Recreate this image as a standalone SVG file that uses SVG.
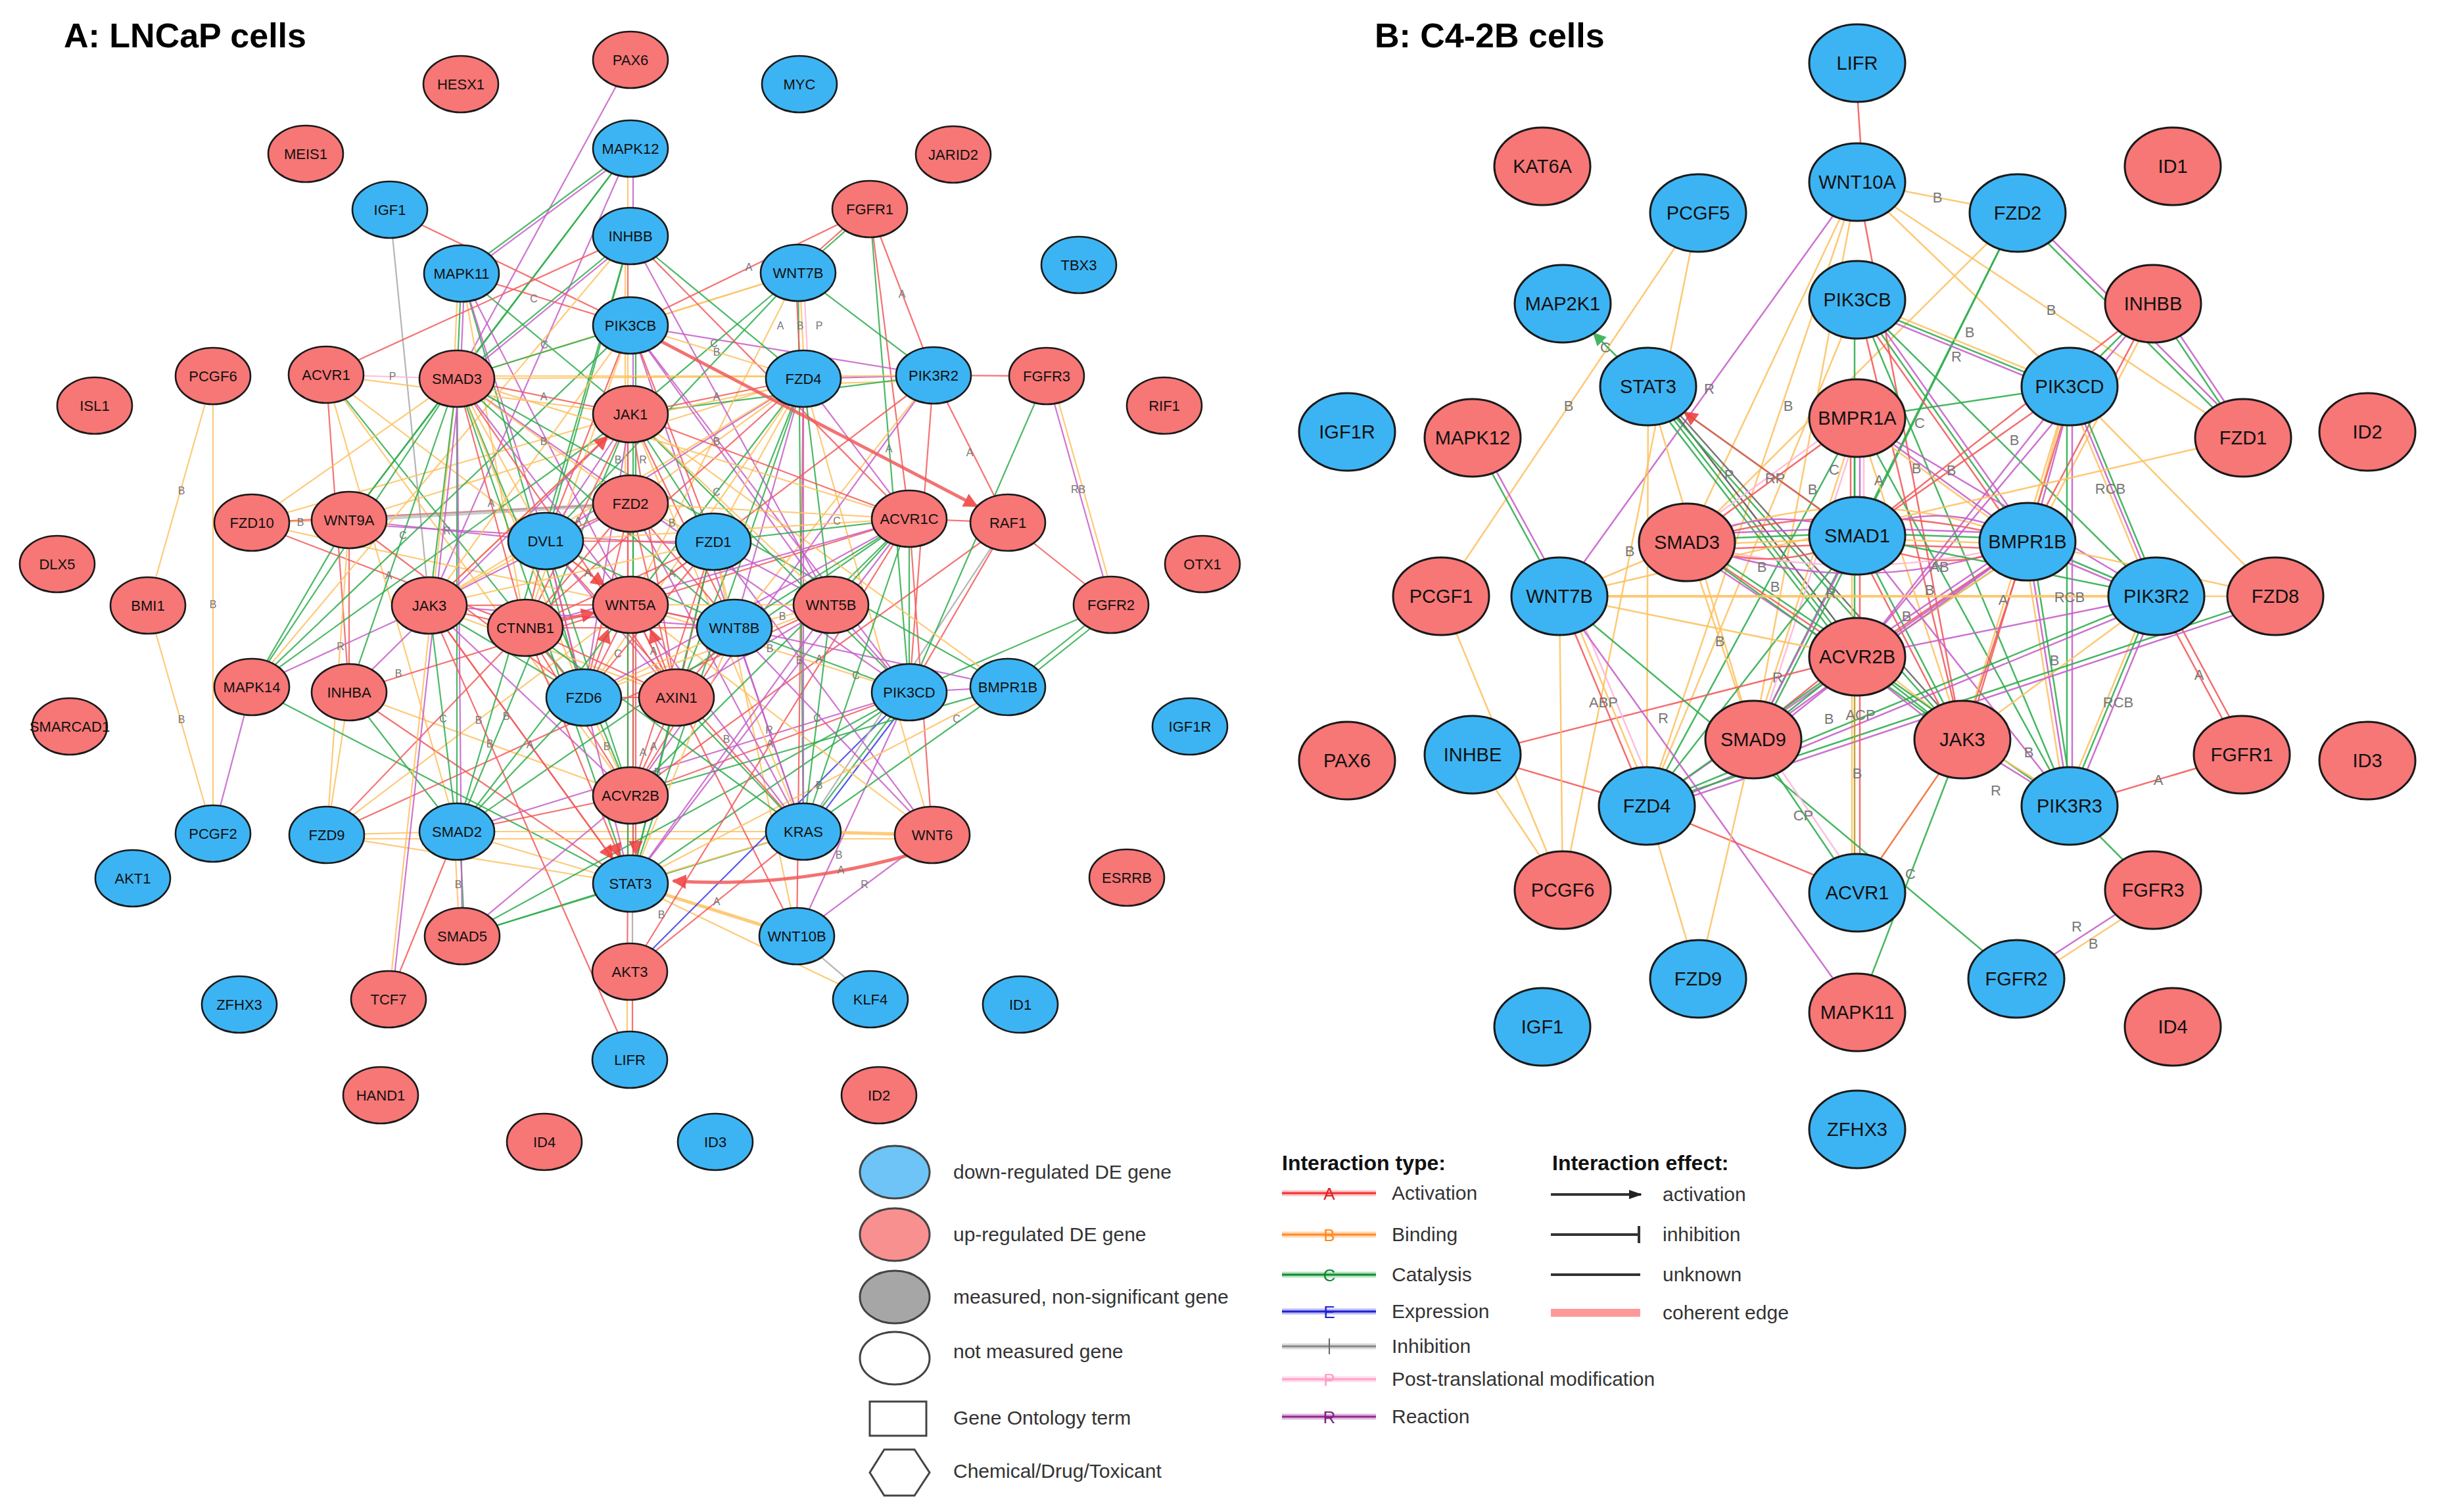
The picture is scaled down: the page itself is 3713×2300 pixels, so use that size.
<svg xmlns="http://www.w3.org/2000/svg" width="3713" height="2300" viewBox="0 0 3713 2300">
<style>
text{font-family:"Liberation Sans",Arial,sans-serif}
.title{font-size:52px;font-weight:bold;fill:#000}
.node ellipse{stroke:#1a1a1a;stroke-width:2.6}
.up ellipse{fill:#F77676}
.dn ellipse{fill:#3CB4F3}
.la{font-size:22px;fill:#111;text-anchor:middle}
.lb{font-size:29px;fill:#111;text-anchor:middle}
#nodes-B .node ellipse{stroke-width:3}
#connectors path,#legend path{fill:none}
.a{stroke:#F25A5A}.b{stroke:#FDC262}.c{stroke:#2EAD4C}.i{stroke:#A8A8A8}.p{stroke:#FFB5D8}.r{stroke:#C65EC8}.e{stroke:#3B3BE4}.o{stroke:#F06A30}.ol{stroke:#B89A20}
#edges-A path{stroke-width:2.2;opacity:.85}
#edges-B path{stroke-width:2.5;opacity:.88}
.t{stroke-width:5px !important}
.el{font-size:16px;fill:#777;text-anchor:middle}
.elb{font-size:22px;fill:#777;text-anchor:middle}
.lg{font-size:30px;fill:#333}
.lgh{font-size:32px;font-weight:bold;fill:#111}
.lgl{font-size:26px;text-anchor:middle}
.lgs{stroke:#444;stroke-width:3}
</style>
<defs>
<marker id="arA" viewBox="0 0 10 10" refX="9" refY="5" markerUnits="userSpaceOnUse" markerWidth="22" markerHeight="22" orient="auto"><path d="M0 0L10 5 0 10z" fill="#F03C3C"/></marker>
<marker id="arC" viewBox="0 0 10 10" refX="9" refY="5" markerUnits="userSpaceOnUse" markerWidth="20" markerHeight="20" orient="auto"><path d="M0 0L10 5 0 10z" fill="#2EAD4C"/></marker>
<marker id="arK" viewBox="0 0 10 10" refX="9" refY="5" markerUnits="userSpaceOnUse" markerWidth="20" markerHeight="20" orient="auto"><path d="M0 1.5L10 5 0 8.5z" fill="#222"/></marker>
</defs>
<rect width="3713" height="2300" fill="#fff"/>
<text class="title" x="97" y="72">A: LNCaP cells</text>
<text class="title" x="2091" y="72">B: C4-2B cells</text>

<g id="connectors">
<g id="edges-A">
<path class="r" d="M959 91L695 576"/>
<path class="c" d="M959 226L702 416"/><path class="r" d="M959 232L702 422"/>
<path class="c" d="M959 226L695 576"/>
<path class="b" d="M955 226L955 359"/><path class="r" d="M963 226L963 359"/>
<path class="r" d="M959 226L653 921"/>
<path class="c" d="M959 226L531 791"/>
<path class="a" d="M593 319L959 495"/>
<path class="i" d="M593 319L653 921"/>
<path class="a" d="M702 416L959 495"/>
<path class="b" d="M697 416L690 576"/><path class="c" d="M702 416L695 576"/><path class="r" d="M707 416L700 576"/>
<path class="c" d="M702 416L959 630"/>
<path class="c" d="M702 416L888 1061"/>
<path class="b" d="M702 416L799 955"/>
<path class="r" d="M702 416L959 920"/>
<path class="r" d="M702 416L830 823"/>
<path class="a" d="M496 570L959 359"/>
<path class="p" d="M496 570L695 576"/>
<path class="b" d="M496 570L959 630"/>
<path class="b" d="M496 570L959 920"/>
<path class="a" d="M496 570L531 1053"/>
<path class="c" d="M496 570L888 1061"/>
<path class="b" d="M496 570L695 1265"/>
<path class="b" d="M496 570L959 1210"/>
<path class="b" d="M324 572L324 1268"/>
<path class="b" d="M324 572L225 921"/>
<path class="b" d="M225 921L324 1268"/>
<path class="r" d="M383 1045L324 1268"/>
<path class="b" d="M531 1053L497 1270"/>
<path class="b" d="M383 795L531 791"/>
<path class="b" d="M383 795L959 630"/>
<path class="a" d="M383 795L959 766"/>
<path class="b" d="M383 795L959 920"/>
<path class="a" d="M383 795L799 955"/>
<path class="b" d="M383 795L695 576"/>
<path class="i" style="stroke-width:6;opacity:.6" d="M531 791L959 766"/>
<path class="r" d="M531 791L830 823"/>
<path class="r" d="M531 797L1085 830"/>
<path class="b" d="M531 791L1222 576"/>
<path class="a" d="M531 791L888 1061"/>
<path class="c" d="M531 791L695 576"/>
<path class="b" d="M531 791L497 1270"/>
<path class="c" d="M531 791L383 1045"/>
<path class="a" d="M531 791L531 1053"/>
<path class="c" d="M383 1045L695 576"/>
<path class="c" d="M383 1045L959 630"/>
<path class="c" d="M383 1045L959 495"/>
<path class="c" d="M383 1045L959 1344"/>
<path class="r" d="M383 1045L653 921"/>
<path class="b" d="M383 1045L959 359"/>
<path class="c" d="M531 1053L695 576"/>
<path class="b" d="M531 1053L959 1210"/>
<path class="c" d="M531 1053L695 1265"/>
<path class="r" d="M531 1053L959 630"/>
<path class="a" d="M531 1053L1383 789"/>
<path class="a" d="M531 1053L959 1344"/>
<path class="b" d="M497 1270L959 920"/>
<path class="b" d="M497 1270L695 1265"/>
<path class="b" d="M497 1270L959 1344"/>
<path class="b" d="M497 1276L1418 1276"/>
<path class="a" d="M497 1270L1264 920"/>
<path class="a" d="M497 1270L799 955"/>
<path class="a" d="M695 1265L959 1210"/>
<path class="c" d="M695 1265L695 576"/>
<path class="b" d="M695 1265L959 1344"/>
<path class="c" d="M699 1265L707 1424"/><path class="b" d="M691 1265L699 1424"/>
<path class="c" d="M695 1265L959 630"/>
<path class="c" d="M695 1265L1383 789"/>
<path class="r" d="M695 1265L1383 1053"/>
<path class="b" d="M695 1265L1222 1265"/>
<path class="a" d="M695 1265L591 1520"/>
<path class="b" d="M695 576L591 1520"/><path class="r" d="M700 576L596 1520"/>
<path class="r" d="M695 576L703 1424"/>
<path class="c" d="M703 1424L959 1344"/>
<path class="c" d="M703 1424L1222 1265"/>
<path class="r" d="M703 1424L959 1210"/>
<path class="c" d="M703 1424L1383 1053"/>
<path class="a" d="M955 1344L954 1478"/><path class="i" d="M962 1344L962 1478"/>
<path class="b t" d="M959 1344L1212 1424"/>
<path class="b" d="M959 1344L1324 1520"/>
<path class="a" d="M955 1344L955 630"/><path class="c" d="M963 1344L963 630"/>
<path class="a" d="M959 1344L653 921"/>
<path class="b" d="M959 1344L1222 1265"/>
<path class="c" d="M959 1344L1383 1053"/>
<path class="r" d="M1212 1424L1418 1270"/>
<path class="i" d="M1212 1424L1324 1520"/>
<path class="a" d="M1212 1424L1222 576"/>
<path class="a" d="M1212 1424L959 920"/>
<path class="b" d="M1212 1424L1085 824"/>
<path class="r" d="M1212 1424L1383 1053"/>
<path class="b" d="M954 1478L954 1612"/><path class="a" d="M962 1478L962 1612"/>
<path class="e" d="M958 1478L1383 1053"/>
<path class="a" d="M958 1478L1383 789"/>
<path class="a" d="M958 1478L1222 1265"/>
<path class="a" d="M958 1612L653 921"/>
<path class="b t" d="M1222 1265L1418 1270"/>
<path class="c" d="M1222 1265L1383 1053"/><path class="e" d="M1227 1269L1388 1057"/>
<path class="c" d="M1222 1265L1533 1045"/>
<path class="i" d="M1222 1265L1533 795"/>
<path class="r" d="M1222 1265L959 495"/>
<path class="r" d="M1222 1265L959 766"/>
<path class="c" d="M1222 1265L1214 415"/>
<path class="b" d="M1222 1265L959 630"/>
<path class="a" d="M1222 1265L830 823"/>
<path class="b" d="M1418 1270L1222 576"/>
<path class="b" d="M1418 1270L959 920"/>
<path class="r" d="M1418 1270L1085 824"/>
<path class="r" d="M1418 1270L1117 955"/>
<path class="a" d="M1418 1270L1383 789"/>
<path class="c" d="M955 1210L955 1344"/><path class="a" d="M963 1210L963 1344"/>
<path class="c" d="M959 1210L1533 1045"/>
<path class="a" d="M959 1210L1383 1053"/>
<path class="c" d="M959 1210L1383 789"/>
<path class="a" d="M959 1210L1533 795"/>
<path class="c" d="M959 1210L695 576"/>
<path class="r" d="M959 1210L1420 571"/>
<path class="r" d="M1383 1053L1533 1045"/>
<path class="c" d="M1383 1053L1383 789"/>
<path class="a" d="M1383 1053L1420 571"/>
<path class="c" d="M1383 1053L1323 318"/>
<path class="c" d="M1383 1053L1592 572"/>
<path class="c" d="M1383 1053L1690 920"/>
<path class="a" d="M1383 1053L1533 795"/>
<path class="c" d="M1383 1053L959 630"/>
<path class="b" d="M1383 1053L959 920"/>
<path class="r" d="M1383 1053L695 576"/>
<path class="r" d="M1383 1053L959 495"/>
<path class="c" d="M1533 1045L1690 920"/><path class="c" d="M1538 1052L1695 927"/>
<path class="c" d="M1533 1045L695 576"/>
<path class="r" d="M1533 1045L959 920"/>
<path class="b" d="M1533 1045L959 630"/>
<path class="b" d="M1533 1045L959 1344"/>
<path class="a" d="M1533 795L1690 920"/>
<path class="a" d="M1533 795L1420 571"/>
<path class="a" d="M1533 795L1383 789"/>
<path class="r" d="M1690 920L1592 572"/><path class="b" d="M1697 920L1599 572"/>
<path class="a" d="M1592 572L1420 571"/>
<path class="a" d="M1323 318L1420 571"/>
<path class="c" d="M1323 318L1214 415"/><path class="a" d="M1323 312L1214 409"/>
<path class="a" d="M1323 318L959 495"/>
<path class="a" d="M1323 318L1383 789"/>
<path class="c" d="M1420 571L1214 415"/>
<path class="r" d="M1420 571L1222 576"/><path class="b" d="M1420 579L1222 584"/>
<path class="r" d="M1420 571L959 495"/>
<path class="c" d="M1420 571L959 630"/>
<path class="a" d="M1420 571L959 920"/>
<path class="b" d="M1420 571L695 576"/>
<path class="b" d="M1420 571L1117 955"/>
<path class="a" d="M1210 415L1218 576"/><path class="b" d="M1216 415L1224 576"/><path class="p" d="M1222 415L1230 576"/>
<path class="b" d="M1214 415L959 495"/>
<path class="c" d="M1214 415L959 630"/>
<path class="b" d="M1214 415L695 576"/>
<path class="b" d="M1214 415L959 920"/>
<path class="c" d="M1214 415L830 823"/>
<path class="a" d="M955 359L955 495"/>
<path class="c" d="M959 359L695 576"/><path class="r" d="M959 365L695 582"/>
<path class="c" d="M959 359L1222 576"/>
<path class="a" d="M959 359L1383 789"/>
<path class="r" d="M959 359L1264 920"/>
<path class="b" d="M951 359L951 766"/>
<path class="c" d="M959 359L695 1265"/>
<path class="c" d="M959 359L830 823"/>
<path class="b" d="M955 495L955 630"/><path class="r" d="M963 495L963 630"/>
<path class="c" d="M959 495L695 576"/>
<path class="b" d="M959 495L1222 576"/>
<path class="c" d="M967 495L967 766"/>
<path class="r" d="M959 495L1264 920"/>
<path class="b" d="M959 495L653 921"/>
<path class="a" d="M959 495L830 823"/>
<path class="b" d="M959 495L799 955"/>
<path class="a" d="M959 495L1085 824"/>
<path class="a" d="M1222 576L959 630"/><path class="b" d="M1222 582L959 636"/>
<path class="b" d="M1222 572L695 572"/>
<path class="b" d="M1222 576L959 766"/>
<path class="c" d="M1222 576L959 920"/>
<path class="r" d="M1222 576L830 823"/>
<path class="b" d="M1222 576L653 921"/>
<path class="r" d="M1222 576L1383 789"/>
<path class="a" d="M1222 576L799 955"/>
<path class="c" d="M1222 576L959 1344"/>
<path class="r" d="M1222 576L1222 1265"/>
<path class="b" d="M1222 576L1085 824"/>
<path class="r" d="M1222 576L1117 955"/>
<path class="c" d="M1222 576L1029 1061"/>
<path class="c" d="M1222 576L1264 920"/>
<path class="b" d="M1222 576L888 1061"/>
<path class="a" d="M959 630L695 576"/>
<path class="a" d="M955 630L955 766"/>
<path class="b" d="M959 630L653 921"/>
<path class="r" d="M959 630L830 823"/>
<path class="a" d="M959 630L799 955"/>
<path class="a" d="M959 630L1383 789"/>
<path class="b" d="M959 630L1264 920"/>
<path class="a" d="M959 630L1117 955"/>
<path class="c" d="M959 630L1085 824"/>
<path class="a" d="M959 630L1029 1061"/>
<path class="r" d="M959 630L888 1061"/>
<path class="b" d="M695 576L959 766"/>
<path class="c" d="M695 576L653 921"/>
<path class="b" d="M695 576L830 823"/>
<path class="a" d="M695 576L799 955"/>
<path class="r" d="M695 576L959 920"/>
<path class="b" d="M695 576L1383 789"/>
<path class="c" d="M695 576L959 1344"/>
<path class="c" d="M695 576L1117 955"/>
<path class="b" d="M695 576L888 1061"/>
<path class="a" d="M695 576L1029 1061"/>
<path class="a" d="M959 766L830 823"/>
<path class="a" d="M955 766L955 920"/><path class="c" d="M963 766L963 920"/>
<path class="a" d="M959 766L799 955"/>
<path class="b" d="M959 766L1085 824"/>
<path class="a" d="M959 766L1117 955"/>
<path class="r" d="M959 766L653 921"/>
<path class="b" d="M959 766L1383 789"/>
<path class="a" d="M959 766L888 1061"/>
<path class="a" d="M959 766L1029 1061"/>
<path class="a" d="M830 823L799 955"/>
<path class="b" d="M830 823L653 921"/>
<path class="a" d="M830 823L888 1061"/>
<path class="r" d="M830 823L1029 1061"/>
<path class="c" d="M830 823L1117 955"/>
<path class="a" d="M830 823L1085 824"/>
<path class="c" d="M830 823L959 1210"/>
<path class="r" d="M830 823L959 1344"/>
<path class="a" d="M1085 824L959 920"/>
<path class="b" d="M1085 824L1117 955"/>
<path class="a" d="M1085 824L1029 1061"/>
<path class="r" d="M1085 824L1264 920"/>
<path class="c" d="M1085 824L1383 789"/>
<path class="a" d="M1085 824L888 1061"/>
<path class="a" d="M1085 824L959 1210"/>
<path class="c" d="M1085 824L959 1344"/>
<path class="a" d="M653 921L799 955"/>
<path class="a" d="M653 921L959 920"/>
<path class="c" d="M653 921L695 1265"/>
<path class="r" d="M653 921L959 1210"/>
<path class="b" d="M653 921L1085 824"/>
<path class="r" d="M653 921L1117 955"/>
<path class="b" d="M653 921L1029 1061"/>
<path class="c" d="M653 921L888 1061"/>
<path class="a" d="M799 955L888 1061"/>
<path class="a" d="M799 955L1029 1061"/>
<path class="a" d="M799 955L959 1210"/>
<path class="a" d="M799 955L1117 955"/>
<path class="a" d="M799 955L1085 824"/>
<path class="c" d="M799 955L1222 1265"/>
<path class="a" d="M959 920L1117 955"/>
<path class="a" d="M959 920L888 1061"/>
<path class="a" d="M959 920L1029 1061"/>
<path class="a" d="M963 920L963 1210"/><path class="c" d="M955 920L955 1210"/>
<path class="b" d="M959 920L1264 920"/>
<path class="r" d="M959 920L1222 1265"/>
<path class="c" d="M959 920L695 1265"/>
<path class="b" d="M1264 920L1117 955"/>
<path class="c" d="M1264 920L1383 789"/>
<path class="r" d="M1264 920L1383 1053"/>
<path class="c" d="M1264 920L1222 1265"/>
<path class="b" d="M1264 920L888 1061"/>
<path class="r" d="M1264 920L959 1344"/>
<path class="r" d="M1264 920L1029 1061"/>
<path class="a" d="M1117 955L1029 1061"/>
<path class="c" d="M1117 955L1383 1053"/>
<path class="r" d="M1117 955L1222 1265"/>
<path class="b" d="M1117 955L959 1344"/>
<path class="b" d="M1117 955L888 1061"/>
<path class="a" d="M1117 955L959 1210"/>
<path class="a" d="M888 1061L1029 1061"/>
<path class="b" d="M888 1061L959 1210"/>
<path class="c" d="M888 1061L695 1265"/>
<path class="a" d="M1029 1061L959 1210"/>
<path class="c" d="M1029 1061L959 1344"/>
<path class="c" d="M1029 1061L1222 1265"/>
<path class="r" d="M1383 789L959 1344"/>
<path class="c" d="M1383 789L1222 1265"/>
<path class="c" d="M1383 789L1117 955"/>
<path class="r" d="M1383 789L888 1061"/>
<path class="b" d="M1383 789L830 823"/>
<path class="r" d="M1383 789L799 955"/>
<path class="a t" d="M959 495L1486 770" marker-end="url(#arA)"/>
<path class="a t" d="M1385 1300Q1200 1352 1024 1340" marker-end="url(#arA)"/>
<path class="a" d="M653 921L932 1306" marker-end="url(#arA)"/>
<path class="a" d="M799 955L942 1303" marker-end="url(#arA)"/>
<path class="a" d="M830 823L919 890" marker-end="url(#arA)"/>
<path class="a t" d="M799 955L904 932" marker-end="url(#arA)"/>
<path class="a" d="M967 963L967 1299" marker-end="url(#arA)"/>
<path class="a" d="M653 921L924 664" marker-end="url(#arA)"/>
<path class="a" d="M888 1061L925 958" marker-end="url(#arA)"/>
<path class="a" d="M1029 1061L990 958" marker-end="url(#arA)"/>
</g>
<g id="edge-labels-A">
<text class="el" x="276" y="752">B</text><text class="el" x="324" y="925">B</text><text class="el" x="276" y="1100">B</text>
<text class="el" x="457" y="800">B</text><text class="el" x="597" y="578">P</text><text class="el" x="1139" y="412">A</text>
<text class="el" x="1372" y="453">A</text><text class="el" x="1187" y="501">A</text><text class="el" x="1217" y="501">B</text>
<text class="el" x="1246" y="501">P</text><text class="el" x="1640" y="750">RB</text><text class="el" x="1352" y="688">A</text>
<text class="el" x="1475" y="694">A</text><text class="el" x="1273" y="798">C</text><text class="el" x="1216" y="1010">B</text>
<text class="el" x="1455" y="1099">C</text><text class="el" x="697" y="1351">B</text><text class="el" x="1006" y="1397">B</text>
<text class="el" x="1279" y="1329">A</text><text class="el" x="1315" y="1351">R</text><text class="el" x="1276" y="1306">B</text>
<text class="el" x="828" y="530">C</text><text class="el" x="812" y="460">C</text><text class="el" x="1000" y="1180">B</text>
<text class="el" x="606" y="1030">B</text><text class="el" x="770" y="1095">B</text><text class="el" x="1105" y="1130">B</text>
<text class="el" x="827" y="609">A</text><text class="el" x="879" y="798">A</text><text class="el" x="894" y="877">A</text>
<text class="el" x="1022" y="801">B</text><text class="el" x="1022" y="878">A</text><text class="el" x="994" y="996">A</text>
<text class="el" x="923" y="1141">B</text><text class="el" x="994" y="1141">A</text><text class="el" x="674" y="1099">C</text>
<text class="el" x="747" y="771">A</text><text class="el" x="827" y="677">B</text><text class="el" x="1090" y="541">B</text>
<text class="el" x="1090" y="609">A</text><text class="el" x="1086" y="528">C</text><text class="el" x="1090" y="677">B</text>
<text class="el" x="1090" y="754">C</text><text class="el" x="1190" y="943">B</text><text class="el" x="1170" y="1116">R</text>
<text class="el" x="1302" y="1033">C</text><text class="el" x="1243" y="1098">C</text><text class="el" x="879" y="1088">A</text>
<text class="el" x="806" y="1138">A</text><text class="el" x="613" y="820">C</text><text class="el" x="680" y="813">R</text>
<text class="el" x="518" y="989">R</text><text class="el" x="591" y="881">A</text><text class="el" x="727" y="606">B</text>
<text class="el" x="1171" y="992">B</text><text class="el" x="1246" y="1200">B</text><text class="el" x="1246" y="1008">A</text>
<text class="el" x="1171" y="1137">A</text><text class="el" x="1039" y="1033">C</text><text class="el" x="728" y="1101">B</text>
<text class="el" x="745" y="1137">B</text><text class="el" x="1090" y="1377">A</text><text class="el" x="940" y="705">B</text>
<text class="el" x="978" y="705">R</text><text class="el" x="940" y="1000">C</text><text class="el" x="978" y="1150">A</text>
</g>
<g id="edges-B">
<path class="a" d="M2822 96L2834 277"/>
<path class="b" d="M2825 277L3069 324"/>
<path class="r" d="M2825 277L2372 907"/>
<path class="b" d="M2825 277L3148 588"/>
<path class="b" d="M2825 277L3412 666"/>
<path class="a" d="M2825 277L2985 1125"/>
<path class="b" d="M2825 277L2566 825"/>
<path class="b" d="M2825 277L2667 1125"/>
<path class="b" d="M2825 277L2505 1226"/>
<path class="c" d="M3069 324L3412 666"/><path class="r" d="M3075 318L3418 660"/>
<path class="c" d="M3069 324L2825 815"/>
<path class="c" d="M3069 324L2667 1125"/>
<path class="b" d="M3069 324L2566 825"/>
<path class="b" d="M2583 324L2192 907"/>
<path class="b" d="M2583 324L2377 1354"/>
<path class="c" d="M2240 666L2372 907"/><path class="r" d="M2246 662L2378 903"/>
<path class="b" d="M2825 456L3148 588"/><path class="c" d="M2825 462L3148 594"/><path class="r" d="M2825 468L3148 600"/>
<path class="c" d="M2825 456L3084 824"/><path class="r" d="M2831 452L3090 820"/><path class="a" d="M2819 460L3078 828"/>
<path class="c" d="M2821 456L2821 815"/>
<path class="b" d="M2825 456L2505 1226"/>
<path class="c" d="M2825 456L3148 1226"/>
<path class="a" d="M2825 456L2985 1125"/>
<path class="c" d="M2825 456L3280 907"/>
<path class="c" d="M3275 462L3412 666"/><path class="r" d="M3281 458L3418 662"/>
<path class="c" d="M3275 462L3148 588"/>
<path class="a" d="M3275 462L2825 815"/>
<path class="a" d="M3275 462L3084 824"/><path class="b" d="M3281 466L3090 828"/>
<path class="r" d="M3275 462L2825 999"/>
<path class="c" d="M2825 636L3148 588"/>
<path class="c" d="M2507 588L2825 999"/><path class="i" style="stroke:#555" d="M2513 584L2831 995"/><path class="c" d="M2501 592L2819 1003"/>
<path class="c" d="M2507 588L2825 815"/>
<path class="c" d="M2507 588L2985 1125"/><path class="i" style="stroke:#666" d="M2513 584L2991 1121"/>
<path class="b" d="M2507 588L2667 1125"/>
<path class="b" d="M2507 588L2505 1226"/>
<path class="c" d="M2821 636L2821 815"/><path class="r" d="M2829 636L2829 815"/><path class="a" d="M2815 636L2815 815"/><path class="p" d="M2835 636L2835 815"/>
<path class="a" d="M2825 636L2566 825"/><path class="p" d="M2821 630L2562 819"/>
<path class="r" d="M2825 636L3084 824"/><path class="b" d="M2825 642L3084 830"/>
<path class="b" d="M2825 636L2667 1125"/><path class="p" d="M2831 636L2673 1125"/>
<path class="b" d="M2825 636L2985 1125"/>
<path class="r" d="M2825 636L3280 907"/>
<path class="c" d="M2825 636L3148 1226"/>
<path class="c" d="M2825 636L2505 1226"/>
<path class="c" d="M2566 821L2825 811"/><path class="b" d="M2566 829L2825 819"/><path class="a" d="M2566 837L2825 827"/><path class="r" d="M2566 813L2825 803"/>
<path class="b" d="M2566 825Q2825 720 3084 824"/><path class="a" d="M2566 825Q2825 750 3084 824"/><path class="r" d="M2566 825Q2825 920 3084 824"/><path class="p" d="M2566 825Q2825 895 3084 824"/>
<path class="r" d="M2566 825Q2700 760 2825 815"/><path class="a" d="M2566 825Q2700 880 2825 815"/>
<path class="r" d="M2825 815Q2955 750 3084 824"/><path class="a" d="M2825 815Q2955 885 3084 824"/>
<path class="a" d="M2566 825L2825 999"/><path class="c" d="M2572 821L2831 995"/><path class="r" d="M2560 829L2819 1003"/>
<path class="b" d="M2566 825L2667 1125"/>
<path class="c" d="M2566 825L2985 1125"/>
<path class="b" d="M2566 825L2372 907"/>
<path class="c" d="M2825 811L3084 820"/><path class="b" d="M2825 819L3084 828"/><path class="r" d="M2825 803L3084 812"/><path class="a" d="M2825 827L3084 836"/>
<path class="c" d="M2821 815L2821 999"/><path class="a" d="M2829 815L2829 999"/>
<path class="r" d="M2825 815L2667 1125"/><path class="c" d="M2831 815L2673 1125"/>
<path class="c" d="M2825 815L2985 1125"/><path class="a" d="M2819 819L2979 1129"/>
<path class="r" d="M2825 815L3148 1226"/>
<path class="c" d="M2825 815L3280 907"/>
<path class="c" d="M2825 815L2505 1226"/>
<path class="b" d="M2817 815L2817 1358"/>
<path class="a" d="M3084 824L2825 999"/><path class="c" d="M3090 828L2831 1003"/><path class="r" d="M3078 820L2819 995"/><path class="b" d="M3084 832L2825 1007"/>
<path class="c" d="M3084 824L3280 907"/><path class="r" d="M3084 830L3280 913"/>
<path class="r" d="M3084 824L3148 1226"/><path class="c" d="M3090 824L3154 1226"/><path class="b" d="M3078 824L3142 1226"/>
<path class="a" d="M3084 824L2985 1125"/>
<path class="r" d="M3084 824L2667 1125"/>
<path class="b" d="M3084 824L3148 588"/><path class="r" d="M3090 824L3154 588"/>
<path class="b" d="M3084 824L3461 907"/>
<path class="r" d="M3084 824L2505 1226"/>
<path class="r" d="M3148 588L3280 907"/><path class="c" d="M3154 588L3286 907"/><path class="b" d="M3142 588L3274 907"/>
<path class="c" d="M3144 588L3144 1226"/><path class="r" d="M3152 588L3152 1226"/>
<path class="a" d="M3148 588L2825 815"/>
<path class="b" d="M3148 588L2985 1125"/><path class="a" d="M3154 588L2991 1125"/>
<path class="b" d="M3148 588L3461 907"/>
<path class="r" d="M3148 588L2825 999"/>
<path class="b" d="M3412 666L2372 907"/>
<path class="a" d="M3280 907L3410 1148"/><path class="a" d="M3290 903L3420 1144"/>
<path class="b" d="M3280 907L3461 907"/>
<path class="b" d="M3280 907L2985 1125"/>
<path class="c" d="M3276 907L3144 1226"/><path class="r" d="M3284 907L3152 1226"/><path class="b" d="M3270 907L3138 1226"/>
<path class="b" style="stroke-width:4" d="M3280 907L2372 907"/>
<path class="c" d="M3280 907L2505 1226"/><path class="r" d="M3280 915L2505 1234"/>
<path class="r" d="M3280 907L2825 999"/>
<path class="c" d="M3461 907L2505 1226"/><path class="r" d="M3461 915L2505 1234"/>
<path class="c" d="M2825 999L2667 1125"/><path class="r" d="M2831 1005L2673 1131"/><path class="a" d="M2819 993L2661 1119"/>
<path class="c" d="M2825 999L2985 1125"/><path class="b" d="M2831 993L2991 1119"/><path class="r" d="M2819 1005L2979 1131"/>
<path class="ol" d="M2821 999L2821 1358"/><path class="a" d="M2829 999L2829 1358"/>
<path class="a" d="M2825 999L2240 1148"/>
<path class="c" d="M2825 999L2505 1226"/>
<path class="c" d="M2825 999L3148 1226"/>
<path class="b" d="M2825 999L2372 907"/>
<path class="a" d="M2240 1148L2505 1226"/>
<path class="b" d="M2240 1148L2377 1354"/>
<path class="b" d="M2192 907L2377 1354"/>
<path class="a" d="M2372 907L2505 1226"/><path class="b" d="M2380 903L2513 1222"/><path class="p" d="M2388 899L2521 1218"/>
<path class="r" d="M2372 907L2825 1540"/>
<path class="c" d="M2372 907L3067 1489"/>
<path class="b" d="M2372 907L2377 1354"/>
<path class="a" d="M2505 1226L2825 1358"/>
<path class="b" d="M2505 1226L2583 1489"/>
<path class="b" d="M2667 1125L2583 1489"/>
<path class="c" d="M2667 1125L2825 1358"/><path class="p" d="M2675 1121L2833 1354"/>
<path class="o" d="M2985 1125L2825 1358"/>
<path class="r" d="M2985 1125L3148 1226"/><path class="b" d="M2985 1117L3148 1218"/>
<path class="c" d="M2985 1125L2825 1540"/>
<path class="a" d="M3148 1226L3410 1148"/>
<path class="c" d="M3148 1226L3275 1354"/>
<path class="r" d="M3275 1354L3067 1489"/><path class="b" d="M3283 1362L3075 1497"/>
<path class="a" d="M2770 776L2562 627" marker-end="url(#arA)"/>
<path class="c" d="M2460 543L2424 507" marker-end="url(#arC)"/>
</g>
<g id="edge-labels-B">
<text class="elb" x="2947" y="308">B</text><text class="elb" x="3120" y="479">B</text><text class="elb" x="2996" y="513">B</text>
<text class="elb" x="2976" y="550">R</text><text class="elb" x="2600" y="599">R</text><text class="elb" x="2442" y="536">C</text>
<text class="elb" x="2386" y="625">B</text><text class="elb" x="2720" y="625">B</text><text class="elb" x="2920" y="651">C</text>
<text class="elb" x="3064" y="677">B</text><text class="elb" x="2968" y="723">B</text><text class="elb" x="3210" y="751">RCB</text>
<text class="elb" x="2479" y="846">B</text><text class="elb" x="2616" y="983">B</text><text class="elb" x="3148" y="916">RCB</text>
<text class="elb" x="3047" y="920">A</text><text class="elb" x="2704" y="1038">R</text><text class="elb" x="2439" y="1076">ABP</text>
<text class="elb" x="2530" y="1100">R</text><text class="elb" x="2782" y="1101">B</text><text class="elb" x="2830" y="1095">ACP</text>
<text class="elb" x="2825" y="1184">B</text><text class="elb" x="2743" y="1248">CP</text><text class="elb" x="2906" y="1337">C</text>
<text class="elb" x="3086" y="1152">B</text><text class="elb" x="3036" y="1210">R</text><text class="elb" x="3222" y="1076">RCB</text>
<text class="elb" x="3345" y="1034">A</text><text class="elb" x="3283" y="1194">A</text><text class="elb" x="3125" y="1012">B</text>
<text class="elb" x="3159" y="1417">R</text><text class="elb" x="3184" y="1443">B</text>
<text class="elb" x="2630" y="730">P</text><text class="elb" x="2700" y="735">RP</text><text class="elb" x="2790" y="722">C</text>
<text class="elb" x="2757" y="752">B</text><text class="elb" x="2858" y="738">A</text><text class="elb" x="2915" y="720">B</text>
<text class="elb" x="2680" y="870">B</text><text class="elb" x="2700" y="900">B</text><text class="elb" x="2950" y="870">AB</text>
<text class="elb" x="2935" y="905">B</text><text class="elb" x="2785" y="910">R</text><text class="elb" x="2900" y="945">B</text>
</g>
</g>

<g id="nodes-A">
<g id="A-HESX1" class="node up"><ellipse cx="701" cy="128" rx="57" ry="43"/><text class="la" x="701" y="136">HESX1</text></g>
<g id="A-PAX6" class="node up"><ellipse cx="959" cy="91" rx="57" ry="43"/><text class="la" x="959" y="99">PAX6</text></g>
<g id="A-MYC" class="node dn"><ellipse cx="1216" cy="128" rx="57" ry="43"/><text class="la" x="1216" y="136">MYC</text></g>
<g id="A-MEIS1" class="node up"><ellipse cx="465" cy="234" rx="57" ry="43"/><text class="la" x="465" y="242">MEIS1</text></g>
<g id="A-MAPK12" class="node dn"><ellipse cx="959" cy="226" rx="57" ry="43"/><text class="la" x="959" y="234">MAPK12</text></g>
<g id="A-JARID2" class="node up"><ellipse cx="1450" cy="235" rx="57" ry="43"/><text class="la" x="1450" y="243">JARID2</text></g>
<g id="A-IGF1" class="node dn"><ellipse cx="593" cy="319" rx="57" ry="43"/><text class="la" x="593" y="327">IGF1</text></g>
<g id="A-FGFR1" class="node up"><ellipse cx="1323" cy="318" rx="57" ry="43"/><text class="la" x="1323" y="326">FGFR1</text></g>
<g id="A-MAPK11" class="node dn"><ellipse cx="702" cy="416" rx="57" ry="43"/><text class="la" x="702" y="424">MAPK11</text></g>
<g id="A-INHBB" class="node dn"><ellipse cx="959" cy="359" rx="57" ry="43"/><text class="la" x="959" y="367">INHBB</text></g>
<g id="A-WNT7B" class="node dn"><ellipse cx="1214" cy="415" rx="57" ry="43"/><text class="la" x="1214" y="423">WNT7B</text></g>
<g id="A-TBX3" class="node dn"><ellipse cx="1641" cy="403" rx="57" ry="43"/><text class="la" x="1641" y="411">TBX3</text></g>
<g id="A-PIK3CB" class="node dn"><ellipse cx="959" cy="495" rx="57" ry="43"/><text class="la" x="959" y="503">PIK3CB</text></g>
<g id="A-PCGF6" class="node up"><ellipse cx="324" cy="572" rx="57" ry="43"/><text class="la" x="324" y="580">PCGF6</text></g>
<g id="A-ACVR1" class="node up"><ellipse cx="496" cy="570" rx="57" ry="43"/><text class="la" x="496" y="578">ACVR1</text></g>
<g id="A-SMAD3" class="node up"><ellipse cx="695" cy="576" rx="57" ry="43"/><text class="la" x="695" y="584">SMAD3</text></g>
<g id="A-FZD4" class="node dn"><ellipse cx="1222" cy="576" rx="57" ry="43"/><text class="la" x="1222" y="584">FZD4</text></g>
<g id="A-PIK3R2" class="node dn"><ellipse cx="1420" cy="571" rx="57" ry="43"/><text class="la" x="1420" y="579">PIK3R2</text></g>
<g id="A-FGFR3" class="node up"><ellipse cx="1592" cy="572" rx="57" ry="43"/><text class="la" x="1592" y="580">FGFR3</text></g>
<g id="A-ISL1" class="node up"><ellipse cx="144" cy="617" rx="57" ry="43"/><text class="la" x="144" y="625">ISL1</text></g>
<g id="A-RIF1" class="node up"><ellipse cx="1771" cy="617" rx="57" ry="43"/><text class="la" x="1771" y="625">RIF1</text></g>
<g id="A-JAK1" class="node up"><ellipse cx="959" cy="630" rx="57" ry="43"/><text class="la" x="959" y="638">JAK1</text></g>
<g id="A-FZD2" class="node up"><ellipse cx="959" cy="766" rx="57" ry="43"/><text class="la" x="959" y="774">FZD2</text></g>
<g id="A-FZD10" class="node up"><ellipse cx="383" cy="795" rx="57" ry="43"/><text class="la" x="383" y="803">FZD10</text></g>
<g id="A-WNT9A" class="node up"><ellipse cx="531" cy="791" rx="57" ry="43"/><text class="la" x="531" y="799">WNT9A</text></g>
<g id="A-ACVR1C" class="node up"><ellipse cx="1383" cy="789" rx="57" ry="43"/><text class="la" x="1383" y="797">ACVR1C</text></g>
<g id="A-RAF1" class="node up"><ellipse cx="1533" cy="795" rx="57" ry="43"/><text class="la" x="1533" y="803">RAF1</text></g>
<g id="A-DVL1" class="node dn"><ellipse cx="830" cy="823" rx="57" ry="43"/><text class="la" x="830" y="831">DVL1</text></g>
<g id="A-FZD1" class="node dn"><ellipse cx="1085" cy="824" rx="57" ry="43"/><text class="la" x="1085" y="832">FZD1</text></g>
<g id="A-DLX5" class="node up"><ellipse cx="87" cy="858" rx="57" ry="43"/><text class="la" x="87" y="866">DLX5</text></g>
<g id="A-OTX1" class="node up"><ellipse cx="1829" cy="858" rx="57" ry="43"/><text class="la" x="1829" y="866">OTX1</text></g>
<g id="A-BMI1" class="node up"><ellipse cx="225" cy="921" rx="57" ry="43"/><text class="la" x="225" y="929">BMI1</text></g>
<g id="A-JAK3" class="node up"><ellipse cx="653" cy="921" rx="57" ry="43"/><text class="la" x="653" y="929">JAK3</text></g>
<g id="A-WNT5A" class="node up"><ellipse cx="959" cy="920" rx="57" ry="43"/><text class="la" x="959" y="928">WNT5A</text></g>
<g id="A-WNT5B" class="node up"><ellipse cx="1264" cy="920" rx="57" ry="43"/><text class="la" x="1264" y="928">WNT5B</text></g>
<g id="A-FGFR2" class="node up"><ellipse cx="1690" cy="920" rx="57" ry="43"/><text class="la" x="1690" y="928">FGFR2</text></g>
<g id="A-CTNNB1" class="node up"><ellipse cx="799" cy="955" rx="57" ry="43"/><text class="la" x="799" y="963">CTNNB1</text></g>
<g id="A-WNT8B" class="node dn"><ellipse cx="1117" cy="955" rx="57" ry="43"/><text class="la" x="1117" y="963">WNT8B</text></g>
<g id="A-MAPK14" class="node up"><ellipse cx="383" cy="1045" rx="57" ry="43"/><text class="la" x="383" y="1053">MAPK14</text></g>
<g id="A-INHBA" class="node up"><ellipse cx="531" cy="1053" rx="57" ry="43"/><text class="la" x="531" y="1061">INHBA</text></g>
<g id="A-FZD6" class="node dn"><ellipse cx="888" cy="1061" rx="57" ry="43"/><text class="la" x="888" y="1069">FZD6</text></g>
<g id="A-AXIN1" class="node up"><ellipse cx="1029" cy="1061" rx="57" ry="43"/><text class="la" x="1029" y="1069">AXIN1</text></g>
<g id="A-PIK3CD" class="node dn"><ellipse cx="1383" cy="1053" rx="57" ry="43"/><text class="la" x="1383" y="1061">PIK3CD</text></g>
<g id="A-BMPR1B" class="node dn"><ellipse cx="1533" cy="1045" rx="57" ry="43"/><text class="la" x="1533" y="1053">BMPR1B</text></g>
<g id="A-SMARCAD1" class="node up"><ellipse cx="106" cy="1105" rx="57" ry="43"/><text class="la" x="106" y="1113">SMARCAD1</text></g>
<g id="A-IGF1R" class="node dn"><ellipse cx="1810" cy="1105" rx="57" ry="43"/><text class="la" x="1810" y="1113">IGF1R</text></g>
<g id="A-ACVR2B" class="node up"><ellipse cx="959" cy="1210" rx="57" ry="43"/><text class="la" x="959" y="1218">ACVR2B</text></g>
<g id="A-PCGF2" class="node dn"><ellipse cx="324" cy="1268" rx="57" ry="43"/><text class="la" x="324" y="1276">PCGF2</text></g>
<g id="A-FZD9" class="node dn"><ellipse cx="497" cy="1270" rx="57" ry="43"/><text class="la" x="497" y="1278">FZD9</text></g>
<g id="A-SMAD2" class="node dn"><ellipse cx="695" cy="1265" rx="57" ry="43"/><text class="la" x="695" y="1273">SMAD2</text></g>
<g id="A-KRAS" class="node dn"><ellipse cx="1222" cy="1265" rx="57" ry="43"/><text class="la" x="1222" y="1273">KRAS</text></g>
<g id="A-WNT6" class="node up"><ellipse cx="1418" cy="1270" rx="57" ry="43"/><text class="la" x="1418" y="1278">WNT6</text></g>
<g id="A-AKT1" class="node dn"><ellipse cx="202" cy="1336" rx="57" ry="43"/><text class="la" x="202" y="1344">AKT1</text></g>
<g id="A-ESRRB" class="node up"><ellipse cx="1714" cy="1335" rx="57" ry="43"/><text class="la" x="1714" y="1343">ESRRB</text></g>
<g id="A-STAT3" class="node dn"><ellipse cx="959" cy="1344" rx="57" ry="43"/><text class="la" x="959" y="1352">STAT3</text></g>
<g id="A-SMAD5" class="node up"><ellipse cx="703" cy="1424" rx="57" ry="43"/><text class="la" x="703" y="1432">SMAD5</text></g>
<g id="A-WNT10B" class="node dn"><ellipse cx="1212" cy="1424" rx="57" ry="43"/><text class="la" x="1212" y="1432">WNT10B</text></g>
<g id="A-AKT3" class="node up"><ellipse cx="958" cy="1478" rx="57" ry="43"/><text class="la" x="958" y="1486">AKT3</text></g>
<g id="A-ZFHX3" class="node dn"><ellipse cx="364" cy="1528" rx="57" ry="43"/><text class="la" x="364" y="1536">ZFHX3</text></g>
<g id="A-TCF7" class="node up"><ellipse cx="591" cy="1520" rx="57" ry="43"/><text class="la" x="591" y="1528">TCF7</text></g>
<g id="A-KLF4" class="node dn"><ellipse cx="1324" cy="1520" rx="57" ry="43"/><text class="la" x="1324" y="1528">KLF4</text></g>
<g id="A-ID1" class="node dn"><ellipse cx="1552" cy="1528" rx="57" ry="43"/><text class="la" x="1552" y="1536">ID1</text></g>
<g id="A-LIFR" class="node dn"><ellipse cx="958" cy="1612" rx="57" ry="43"/><text class="la" x="958" y="1620">LIFR</text></g>
<g id="A-HAND1" class="node up"><ellipse cx="579" cy="1666" rx="57" ry="43"/><text class="la" x="579" y="1674">HAND1</text></g>
<g id="A-ID2" class="node up"><ellipse cx="1337" cy="1666" rx="57" ry="43"/><text class="la" x="1337" y="1674">ID2</text></g>
<g id="A-ID4" class="node up"><ellipse cx="828" cy="1737" rx="57" ry="43"/><text class="la" x="828" y="1745">ID4</text></g>
<g id="A-ID3" class="node dn"><ellipse cx="1088" cy="1737" rx="57" ry="43"/><text class="la" x="1088" y="1745">ID3</text></g>
</g>

<g id="nodes-B">
<g id="B-LIFR" class="node dn"><ellipse cx="2825" cy="96" rx="73" ry="59"/><text class="lb" x="2825" y="106">LIFR</text></g>
<g id="B-KAT6A" class="node up"><ellipse cx="2346" cy="253" rx="73" ry="59"/><text class="lb" x="2346" y="263">KAT6A</text></g>
<g id="B-WNT10A" class="node dn"><ellipse cx="2825" cy="277" rx="73" ry="59"/><text class="lb" x="2825" y="287">WNT10A</text></g>
<g id="B-ID1" class="node up"><ellipse cx="3305" cy="253" rx="73" ry="59"/><text class="lb" x="3305" y="263">ID1</text></g>
<g id="B-PCGF5" class="node dn"><ellipse cx="2583" cy="324" rx="73" ry="59"/><text class="lb" x="2583" y="334">PCGF5</text></g>
<g id="B-FZD2" class="node dn"><ellipse cx="3069" cy="324" rx="73" ry="59"/><text class="lb" x="3069" y="334">FZD2</text></g>
<g id="B-MAP2K1" class="node dn"><ellipse cx="2377" cy="462" rx="73" ry="59"/><text class="lb" x="2377" y="472">MAP2K1</text></g>
<g id="B-PIK3CB" class="node dn"><ellipse cx="2825" cy="456" rx="73" ry="59"/><text class="lb" x="2825" y="466">PIK3CB</text></g>
<g id="B-INHBB" class="node up"><ellipse cx="3275" cy="462" rx="73" ry="59"/><text class="lb" x="3275" y="472">INHBB</text></g>
<g id="B-STAT3" class="node dn"><ellipse cx="2507" cy="588" rx="73" ry="59"/><text class="lb" x="2507" y="598">STAT3</text></g>
<g id="B-PIK3CD" class="node dn"><ellipse cx="3148" cy="588" rx="73" ry="59"/><text class="lb" x="3148" y="598">PIK3CD</text></g>
<g id="B-IGF1R" class="node dn"><ellipse cx="2049" cy="657" rx="73" ry="59"/><text class="lb" x="2049" y="667">IGF1R</text></g>
<g id="B-MAPK12" class="node up"><ellipse cx="2240" cy="666" rx="73" ry="59"/><text class="lb" x="2240" y="676">MAPK12</text></g>
<g id="B-BMPR1A" class="node up"><ellipse cx="2825" cy="636" rx="73" ry="59"/><text class="lb" x="2825" y="646">BMPR1A</text></g>
<g id="B-FZD1" class="node up"><ellipse cx="3412" cy="666" rx="73" ry="59"/><text class="lb" x="3412" y="676">FZD1</text></g>
<g id="B-ID2" class="node up"><ellipse cx="3601" cy="657" rx="73" ry="59"/><text class="lb" x="3601" y="667">ID2</text></g>
<g id="B-SMAD3" class="node up"><ellipse cx="2566" cy="825" rx="73" ry="59"/><text class="lb" x="2566" y="835">SMAD3</text></g>
<g id="B-SMAD1" class="node dn"><ellipse cx="2825" cy="815" rx="73" ry="59"/><text class="lb" x="2825" y="825">SMAD1</text></g>
<g id="B-BMPR1B" class="node dn"><ellipse cx="3084" cy="824" rx="73" ry="59"/><text class="lb" x="3084" y="834">BMPR1B</text></g>
<g id="B-PCGF1" class="node up"><ellipse cx="2192" cy="907" rx="73" ry="59"/><text class="lb" x="2192" y="917">PCGF1</text></g>
<g id="B-WNT7B" class="node dn"><ellipse cx="2372" cy="907" rx="73" ry="59"/><text class="lb" x="2372" y="917">WNT7B</text></g>
<g id="B-PIK3R2" class="node dn"><ellipse cx="3280" cy="907" rx="73" ry="59"/><text class="lb" x="3280" y="917">PIK3R2</text></g>
<g id="B-FZD8" class="node up"><ellipse cx="3461" cy="907" rx="73" ry="59"/><text class="lb" x="3461" y="917">FZD8</text></g>
<g id="B-ACVR2B" class="node up"><ellipse cx="2825" cy="999" rx="73" ry="59"/><text class="lb" x="2825" y="1009">ACVR2B</text></g>
<g id="B-PAX6" class="node up"><ellipse cx="2049" cy="1157" rx="73" ry="59"/><text class="lb" x="2049" y="1167">PAX6</text></g>
<g id="B-INHBE" class="node dn"><ellipse cx="2240" cy="1148" rx="73" ry="59"/><text class="lb" x="2240" y="1158">INHBE</text></g>
<g id="B-SMAD9" class="node up"><ellipse cx="2667" cy="1125" rx="73" ry="59"/><text class="lb" x="2667" y="1135">SMAD9</text></g>
<g id="B-JAK3" class="node up"><ellipse cx="2985" cy="1125" rx="73" ry="59"/><text class="lb" x="2985" y="1135">JAK3</text></g>
<g id="B-FGFR1" class="node up"><ellipse cx="3410" cy="1148" rx="73" ry="59"/><text class="lb" x="3410" y="1158">FGFR1</text></g>
<g id="B-ID3" class="node up"><ellipse cx="3601" cy="1157" rx="73" ry="59"/><text class="lb" x="3601" y="1167">ID3</text></g>
<g id="B-FZD4" class="node dn"><ellipse cx="2505" cy="1226" rx="73" ry="59"/><text class="lb" x="2505" y="1236">FZD4</text></g>
<g id="B-PIK3R3" class="node dn"><ellipse cx="3148" cy="1226" rx="73" ry="59"/><text class="lb" x="3148" y="1236">PIK3R3</text></g>
<g id="B-PCGF6" class="node up"><ellipse cx="2377" cy="1354" rx="73" ry="59"/><text class="lb" x="2377" y="1364">PCGF6</text></g>
<g id="B-ACVR1" class="node dn"><ellipse cx="2825" cy="1358" rx="73" ry="59"/><text class="lb" x="2825" y="1368">ACVR1</text></g>
<g id="B-FGFR3" class="node up"><ellipse cx="3275" cy="1354" rx="73" ry="59"/><text class="lb" x="3275" y="1364">FGFR3</text></g>
<g id="B-FZD9" class="node dn"><ellipse cx="2583" cy="1489" rx="73" ry="59"/><text class="lb" x="2583" y="1499">FZD9</text></g>
<g id="B-FGFR2" class="node dn"><ellipse cx="3067" cy="1489" rx="73" ry="59"/><text class="lb" x="3067" y="1499">FGFR2</text></g>
<g id="B-IGF1" class="node dn"><ellipse cx="2346" cy="1562" rx="73" ry="59"/><text class="lb" x="2346" y="1572">IGF1</text></g>
<g id="B-MAPK11" class="node up"><ellipse cx="2825" cy="1540" rx="73" ry="59"/><text class="lb" x="2825" y="1550">MAPK11</text></g>
<g id="B-ID4" class="node up"><ellipse cx="3305" cy="1562" rx="73" ry="59"/><text class="lb" x="3305" y="1572">ID4</text></g>
<g id="B-ZFHX3" class="node dn"><ellipse cx="2825" cy="1718" rx="73" ry="59"/><text class="lb" x="2825" y="1728">ZFHX3</text></g>
</g>

<g id="legend">
<ellipse cx="1361" cy="1783" rx="53" ry="40" fill="#6EC4F7" class="lgs"/>
<text class="lg" x="1450" y="1793">down-regulated DE gene</text>
<ellipse cx="1361" cy="1878" rx="53" ry="40" fill="#F99090" class="lgs"/>
<text class="lg" x="1450" y="1888">up-regulated DE gene</text>
<ellipse cx="1361" cy="1973" rx="53" ry="40" fill="#A6A6A6" class="lgs"/>
<text class="lg" x="1450" y="1983">measured, non-significant gene</text>
<ellipse cx="1361" cy="2066" rx="53" ry="40" fill="#fff" class="lgs"/>
<text class="lg" x="1450" y="2066">not measured gene</text>
<rect x="1323" y="2132" width="86" height="52" fill="#fff" class="lgs"/>
<text class="lg" x="1450" y="2167">Gene Ontology term</text>
<polygon points="1323,2240 1345,2205 1391,2205 1414,2240 1391,2275 1345,2275" fill="#fff" class="lgs"/>
<text class="lg" x="1450" y="2248">Chemical/Drug/Toxicant</text>

<text class="lgh" x="1950" y="1780">Interaction type:</text>
<g stroke-linecap="butt">
<path d="M1950 1815H2093" stroke="#F25A5A" stroke-width="9" opacity=".35"/><path d="M1950 1815H2093" stroke="#F03030" stroke-width="3"/>
<path d="M1950 1878H2093" stroke="#FF9030" stroke-width="9" opacity=".35"/><path d="M1950 1878H2093" stroke="#FF8A20" stroke-width="3"/>
<path d="M1950 1939H2093" stroke="#2EAD4C" stroke-width="9" opacity=".35"/><path d="M1950 1939H2093" stroke="#108A30" stroke-width="3"/>
<path d="M1950 1995H2093" stroke="#3B3BE4" stroke-width="9" opacity=".35"/><path d="M1950 1995H2093" stroke="#2020D0" stroke-width="3"/>
<path d="M1950 2048H2093" stroke="#999" stroke-width="9" opacity=".35"/><path d="M1950 2048H2093" stroke="#888" stroke-width="3"/><path d="M2022 2036V2060" stroke="#666" stroke-width="2"/>
<path d="M1950 2098H2093" stroke="#FFB5D8" stroke-width="9" opacity=".45"/><path d="M1950 2098H2093" stroke="#FFA0CC" stroke-width="3"/>
<path d="M1950 2155H2093" stroke="#A03AA0" stroke-width="9" opacity=".35"/><path d="M1950 2155H2093" stroke="#902A90" stroke-width="3"/>
</g>
<text class="lgl" x="2022" y="1825" fill="#E02020">A</text>
<text class="lgl" x="2022" y="1888" fill="#FF8A20">B</text>
<text class="lgl" x="2022" y="1949" fill="#108A30">C</text>
<text class="lgl" x="2022" y="2005" fill="#2020D0">E</text>
<text class="lgl" x="2022" y="2108" fill="#FF9CC8">P</text>
<text class="lgl" x="2022" y="2165" fill="#802080">R</text>
<text class="lg" x="2117" y="1825">Activation</text>
<text class="lg" x="2117" y="1888">Binding</text>
<text class="lg" x="2117" y="1949">Catalysis</text>
<text class="lg" x="2117" y="2005">Expression</text>
<text class="lg" x="2117" y="2058">Inhibition</text>
<text class="lg" x="2117" y="2108">Post-translational modification</text>
<text class="lg" x="2117" y="2165">Reaction</text>

<text class="lgh" x="2361" y="1780">Interaction effect:</text>
<path d="M2359 1817H2496" stroke="#333" stroke-width="4" marker-end="url(#arK)"/>
<path d="M2359 1878H2493M2493 1865V1891" stroke="#333" stroke-width="4"/>
<path d="M2359 1939H2495" stroke="#333" stroke-width="4"/>
<path d="M2359 1997H2495" stroke="#F99" stroke-width="12"/>
<text class="lg" x="2529" y="1827">activation</text>
<text class="lg" x="2529" y="1888">inhibition</text>
<text class="lg" x="2529" y="1949">unknown</text>
<text class="lg" x="2529" y="2007">coherent edge</text>
</g>
</svg>
